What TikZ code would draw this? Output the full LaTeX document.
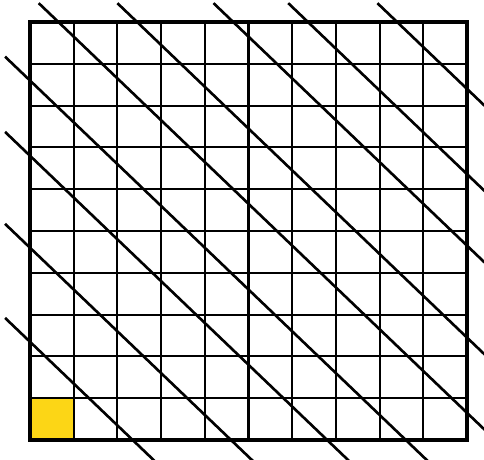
\documentclass[tikz,border=0pt]{standalone}
\definecolor{cellyellow}{RGB}{252,214,22}
\begin{document}
\begin{tikzpicture}[x=0.874cm, y=0.836cm,
  gridline/.style={line width=1.15pt},
  frame/.style={line width=2.1pt},
  slant/.style={line width=1.5pt}
  ]
  \useasboundingbox (-0.686,-0.4545) rectangle (10.389,10.526);
  \clip (-0.686,-0.4545) rectangle (10.389,10.526);
  \fill[cellyellow] (0,0) rectangle (1,1);
  \foreach \i in {1,...,9} {
    \draw[gridline] (\i,0) -- (\i,10);
    \draw[gridline] (0,\i) -- (10,\i);
  }
  \draw[frame] (0,0) rectangle (10,10);
  % lines coming in on the left side
  \foreach \c in {2.35,4.6,6.8,8.6} {
    \draw[slant] (-0.57,\c+0.57) -- (\c+0.6,-0.6);
  }
  % lines coming in on the top side
  \foreach \c in {10.65,12.45,14.65,16.36,18.4} {
    \draw[slant] (\c-10.45,10.45) -- (10.6,\c-10.6);
  }
\end{tikzpicture}
\end{document}
